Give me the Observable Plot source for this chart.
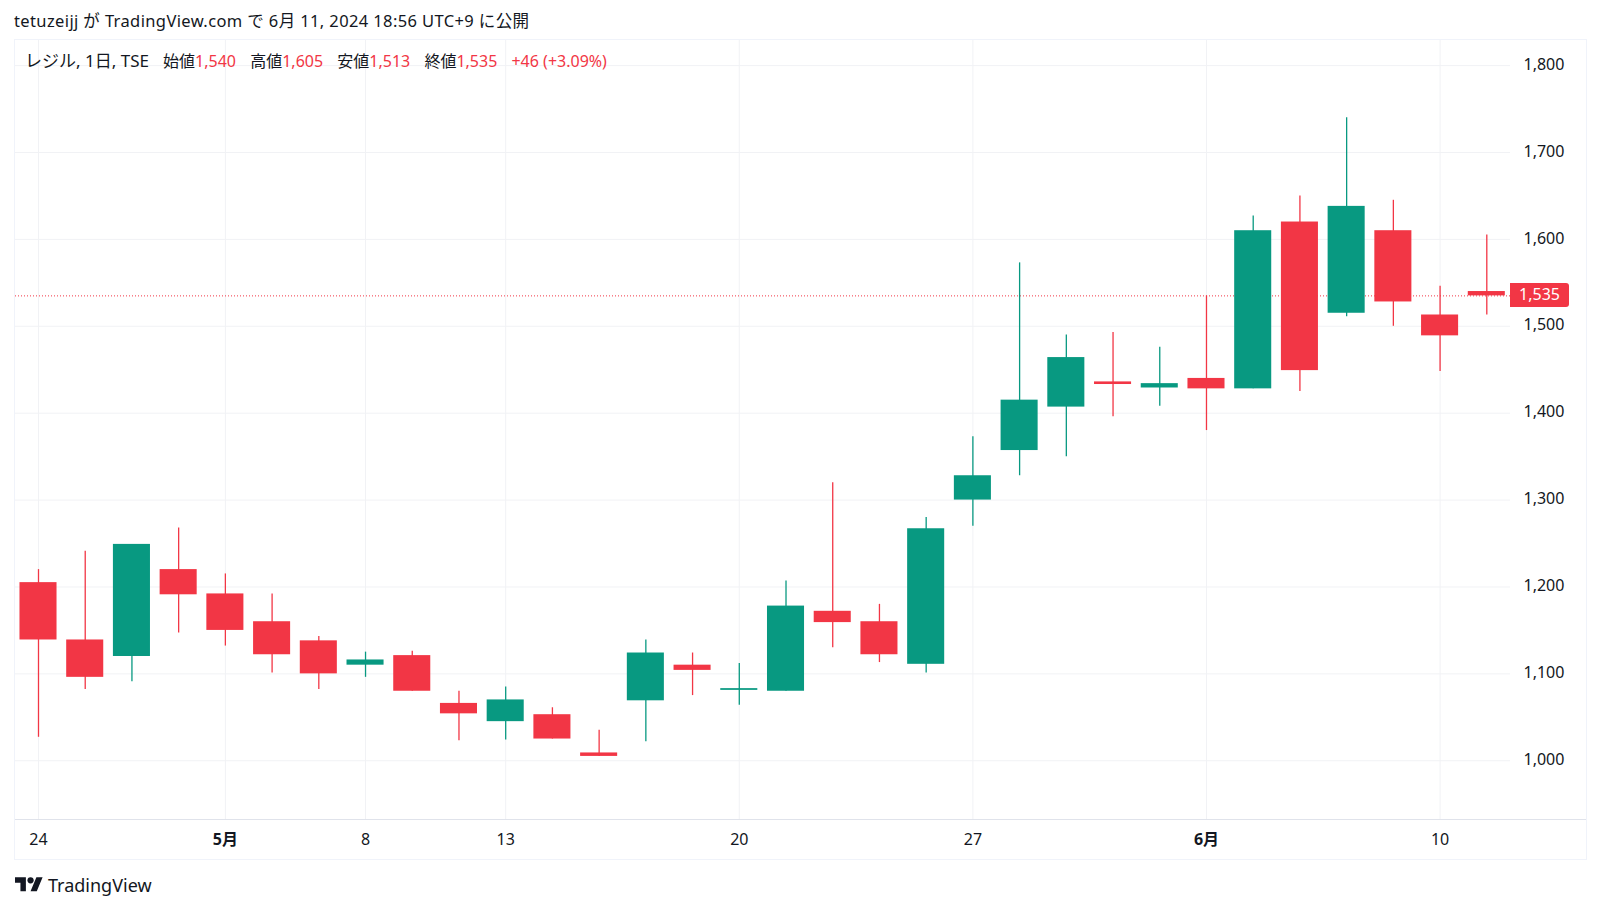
<!DOCTYPE html>
<html lang="ja">

<head>
    <meta charset="UTF-8">
    <title>レジル, 1日, TSE</title>
    <script src="https://cdn.jsdelivr.net/npm/d3@7"></script>
    <script src="https://cdn.jsdelivr.net/npm/@observablehq/plot@0.6"></script>
    <style>
        html, body {
            margin: 0;
            width: 1600px;
            height: 910px;
            overflow: hidden;
            background: #ffffff;
            color: #131722;
            font-family: "Noto Sans", "Noto Sans CJK JP", sans-serif;
        }
        #frame {
            position: absolute;
            left: 14px;
            top: 39px;
            width: 1571px;
            height: 819px;
            border: 1px solid #f0f3fa;
        }
        #timeline {
            position: absolute;
            left: 15px;
            top: 819px;
            width: 1571px;
            height: 1px;
            background: #e0e3eb;
        }
        #myplot {
            position: absolute;
            left: 0;
            top: 0;
        }
        #published {
            position: absolute;
            left: 14px;
            top: 10px;
            font-size: 16.5px;
            letter-spacing: 0.38px;
            line-height: 22px;
            white-space: nowrap;
        }
        #legend {
            position: absolute;
            left: 25px;
            top: 49px;
            font-size: 16px;
            line-height: 24px;
            white-space: nowrap;
        }
        #legend .name { font-size: 17px; }
        #legend .red { color: #f23645; }
        #legend .pair { margin-left: 10px; }
        #pricetag {
            position: absolute;
            left: 1510px;
            width: 59px;
            height: 24px;
            line-height: 23px;
            text-align: center;
            background: #f23645;
            color: #ffffff;
            font-size: 16px;
            border-radius: 0 3px 3px 0;
        }
        #brand {
            position: absolute;
            left: 15px;
            top: 873px;
            display: flex;
            align-items: center;
            gap: 5px;
            font-size: 18px;
            line-height: 24px;
        }
    </style>
</head>

<body>
<div id="published">tetuzeijj が TradingView.com で 6月 11, 2024 18:56 UTC+9 に公開</div>
<div id="frame"></div>
<div id="myplot"></div>
<div id="timeline"></div>
<div id="legend">
    <span class="name">レジル, 1日, TSE</span>
    <span class="pair">始値<span class="red">1,540</span></span>
    <span class="pair">高値<span class="red">1,605</span></span>
    <span class="pair">安値<span class="red">1,513</span></span>
    <span class="pair">終値<span class="red">1,535</span></span>
    <span class="pair red">+46 (+3.09%)</span>
</div>
<div id="pricetag"></div>
<div id="brand">
    <svg width="28" height="22" viewBox="0 0 36 28" fill="#131722">
        <path d="M14 22H7V11H0V4h14v18zM28 22h-8l7.5-18h8L28 22z"></path>
        <circle cx="20" cy="8" r="4"></circle>
    </svg>
    <span>TradingView</span>
</div>

<script>
    const dates = [
        "04-24", "04-25", "04-26", "04-30", "05-01", "05-02", "05-07", "05-08",
        "05-09", "05-10", "05-13", "05-14", "05-15", "05-16", "05-17", "05-20",
        "05-21", "05-22", "05-23", "05-24", "05-27", "05-28", "05-29", "05-30",
        "05-31", "06-03", "06-04", "06-05", "06-06", "06-07", "06-10", "06-11"
    ];
    const opens = [1205, 1139, 1120, 1220, 1192, 1160, 1138, 1110, 1121, 1066, 1045, 1053, 1009, 1069, 1110, 1081,
        1080, 1172, 1160, 1111, 1300, 1357, 1407, 1436, 1429, 1440, 1428, 1620, 1515, 1610, 1513, 1540];
    const highs = [1220, 1241, 1249, 1268, 1215, 1192, 1143, 1125, 1126, 1080, 1085, 1061, 1035, 1139, 1124, 1112,
        1207, 1320, 1180, 1280, 1373, 1573, 1490, 1493, 1476, 1535, 1627, 1650, 1740, 1645, 1546, 1605];
    const lows = [1027, 1082, 1091, 1147, 1132, 1101, 1082, 1096, 1080, 1023, 1024, 1025, 1005, 1022, 1075, 1064,
        1080, 1130, 1113, 1101, 1270, 1328, 1350, 1396, 1408, 1380, 1428, 1425, 1511, 1500, 1448, 1513];
    const closes = [1139, 1096, 1249, 1191, 1150, 1122, 1100, 1116, 1080, 1054, 1070, 1025, 1005, 1124, 1104, 1083,
        1178, 1159, 1122, 1267, 1328, 1415, 1464, 1433, 1434, 1428, 1610, 1449, 1638, 1528, 1489, 1535];

    const tickDates = ["04-24", "05-01", "05-08", "05-13", "05-20", "05-27", "06-03", "06-10"];
    const tickLabels = ["24", "5月", "8", "13", "20", "27", "6月", "10"];
    const tickBold = [false, true, false, false, false, false, true, false];
    const priceTicks = [1000, 1100, 1200, 1300, 1400, 1500, 1600, 1700, 1800];

    const lastClose = closes[closes.length - 1];
    const candles = dates.map((date, i) => ({
        date,
        open: opens[i],
        high: highs[i],
        low: lows[i],
        close: closes[i],
        side: closes[i] < opens[i] ? "down" : "up"
    }));
    const timeTicks = tickDates.map((date, i) => ({ date, label: tickLabels[i], bold: tickBold[i] }));
    const labelFont = "'Noto Sans', 'Noto Sans CJK JP', sans-serif";

    const chart = Plot.plot({
        width: 1600,
        height: 910,
        marginLeft: 15,
        marginRight: 90,
        marginTop: 40,
        marginBottom: 91,
        style: { background: "transparent", color: "#131722", fontFamily: "'Noto Sans', sans-serif", fontSize: "16px" },
        x: { type: "band", axis: null, round: false, domain: dates, range: [14.64, 1509.66], paddingInner: 0.207, paddingOuter: 0.1035 },
        y: { domain: [932.4, 1828.9], range: [819, 40] },
        color: { domain: ["down", "up"], range: ["#f23645", "#089981"] },
        marks: [
            Plot.gridY(priceTicks, { stroke: "#f1f2f5", strokeOpacity: 1 }),
            Plot.gridX(tickDates, { stroke: "#f1f2f5", strokeOpacity: 1 }),
            Plot.axisY(priceTicks, {
                anchor: "right", tickSize: 0, tickPadding: 13, dy: -1, label: null, tickFormat: d3.format(",")
            }),
            Plot.ruleY([lastClose], { stroke: "#f23645", strokeWidth: 1, strokeDasharray: "1 2" }),
            Plot.ruleX(candles, { x: "date", y1: "low", y2: "high", stroke: "side", strokeWidth: 1.3 }),
            Plot.barY(candles, { x: "date", y1: "open", y2: "close", fill: "side" }),
            // months are bold, fontWeight is a constant so two marks
            Plot.text(timeTicks.filter((d) => !d.bold), {
                x: "date", text: "label", frameAnchor: "bottom", dy: 25, fontFamily: labelFont
            }),
            Plot.text(timeTicks.filter((d) => d.bold), {
                x: "date", text: "label", frameAnchor: "bottom", dy: 25, fontFamily: labelFont, fontWeight: "bold"
            })
        ]
    });
    document.querySelector("#myplot").append(chart);

    // etiquette du dernier cours, placed through the y scale
    const tag = document.querySelector("#pricetag");
    tag.textContent = d3.format(",")(lastClose);
    tag.style.top = (chart.scale("y").apply(lastClose) - 12) + "px";
</script>
</body>

</html>
